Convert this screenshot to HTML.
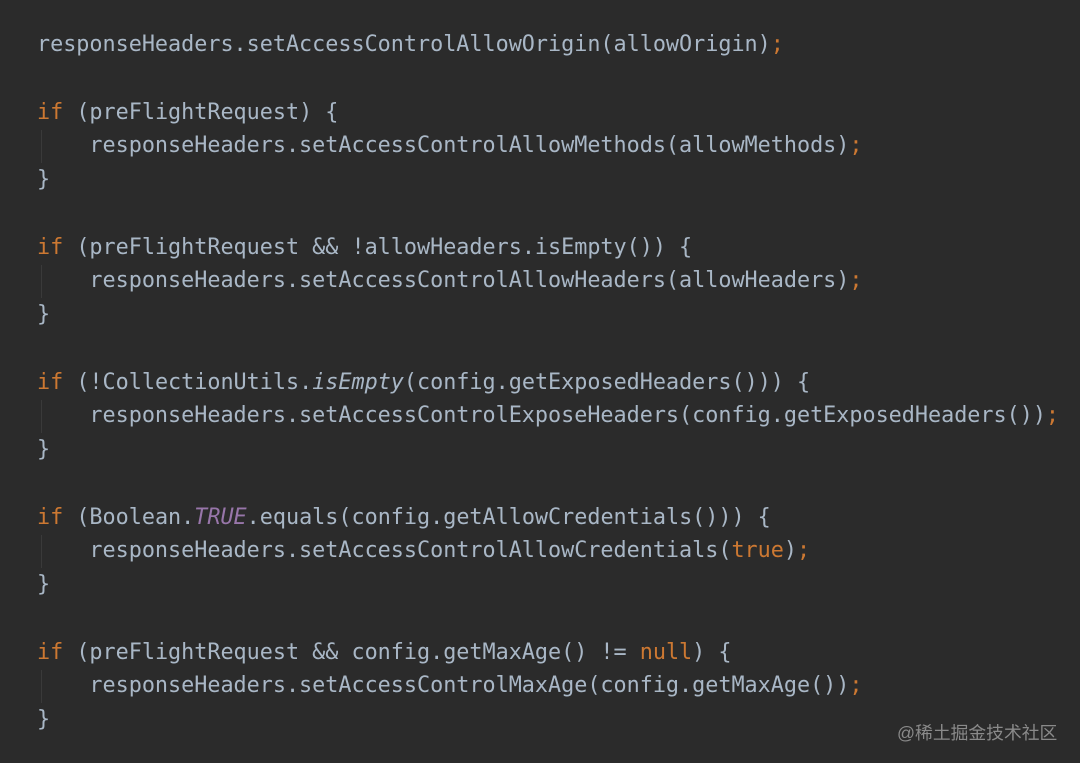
<!DOCTYPE html>
<html><head><meta charset="utf-8"><style>
html,body{margin:0;padding:0;background:#2b2b2b;width:1080px;height:763px;overflow:hidden}
pre{position:absolute;left:37px;top:28px;margin:0;font-family:"DejaVu Sans Mono","Liberation Mono",monospace;font-size:21.8px;line-height:33.75px;color:#a9b7c6;letter-spacing:-0.02px}
.k{color:#cc7832}.p{color:#9876aa;font-style:italic}.i{font-style:italic}
.g{position:absolute;left:41px;width:1px;height:33px;background:#3a3a3a}
.w{position:absolute;left:897px;top:719px;font-family:"Liberation Sans","Noto Sans CJK SC",sans-serif;font-size:17.8px;color:#8a8a8a}
</style></head><body>
<div class="g" style="top:130px"></div><div class="g" style="top:265px"></div><div class="g" style="top:400px"></div><div class="g" style="top:535px"></div><div class="g" style="top:670px"></div>
<pre>responseHeaders.setAccessControlAllowOrigin(allowOrigin)<span class="k">;</span>

<span class="k">if</span> (preFlightRequest) {
    responseHeaders.setAccessControlAllowMethods(allowMethods)<span class="k">;</span>
}

<span class="k">if</span> (preFlightRequest &amp;&amp; !allowHeaders.isEmpty()) {
    responseHeaders.setAccessControlAllowHeaders(allowHeaders)<span class="k">;</span>
}

<span class="k">if</span> (!CollectionUtils.<span class="i">isEmpty</span>(config.getExposedHeaders())) {
    responseHeaders.setAccessControlExposeHeaders(config.getExposedHeaders())<span class="k">;</span>
}

<span class="k">if</span> (Boolean.<span class="p">TRUE</span>.equals(config.getAllowCredentials())) {
    responseHeaders.setAccessControlAllowCredentials(<span class="k">true</span>)<span class="k">;</span>
}

<span class="k">if</span> (preFlightRequest &amp;&amp; config.getMaxAge() != <span class="k">null</span>) {
    responseHeaders.setAccessControlMaxAge(config.getMaxAge())<span class="k">;</span>
}</pre>
<div class="w">@稀土掘金技术社区</div>
</body></html>
